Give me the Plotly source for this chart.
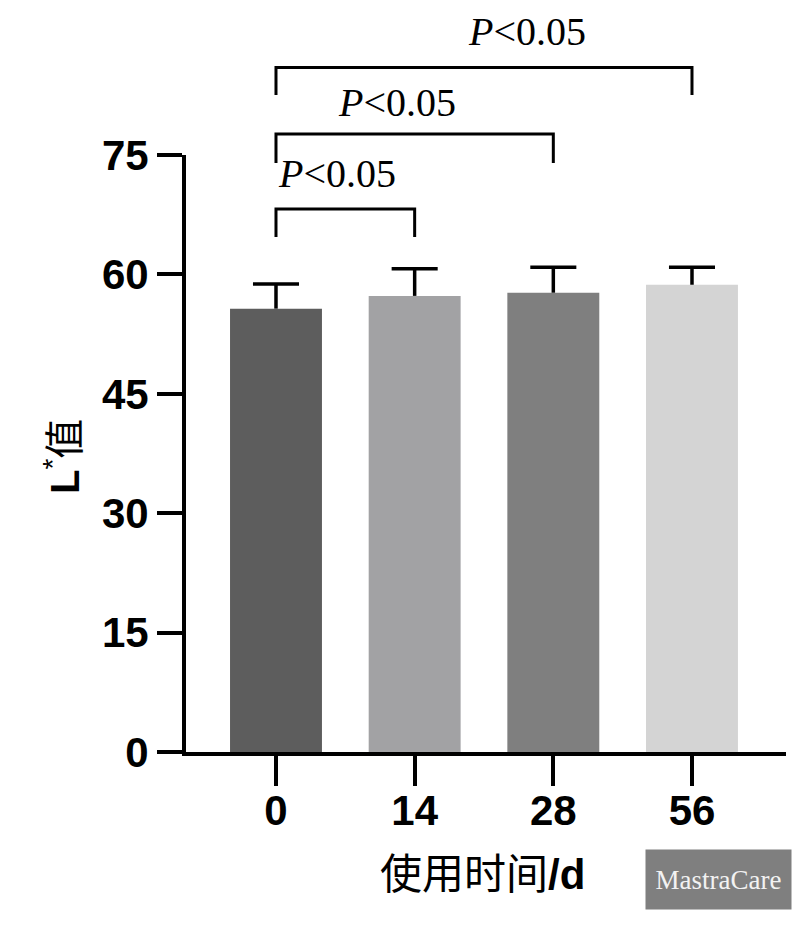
import plotly.graph_objects as go

# ---- data ----
days = ["0", "14", "28", "56"]
l_values = [55.7, 57.3, 57.7, 58.7]
l_sd = [3.1, 3.4, 3.2, 2.2]
bar_colors = ["#5d5d5d", "#a2a2a4", "#7f7f7f", "#d4d4d4"]
y_ticks = [0, 15, 30, 45, 60, 75]
comparisons = [(0, 1), (0, 2), (0, 3)]
p_labels = ["<i>P</i>&lt;0.05", "<i>P</i>&lt;0.05", "<i>P</i>&lt;0.05"]

# ---- layout geometry (pixels) ----
W, H = 807, 925
L, R, T, B = 186, 21, 155, 173
PW = W - L - R
PH = H - T - B
CAP_HALF = 0.166  # half cap width in category units


def xp(px):
    return (px - L) / PW


def yp(py):
    return (H - B - py) / PH


fig = go.Figure()
fig.add_trace(go.Bar(
    x=days, y=l_values, width=0.663,
    marker=dict(color=bar_colors, line=dict(width=0)),
    showlegend=False,
))

# upper-only error bars (whisker + cap), derived from the data arrays
for i, (v, s) in enumerate(zip(l_values, l_sd)):
    fig.add_shape(type="line", xref="x", yref="y", x0=i, x1=i, y0=v, y1=v + s,
                  line=dict(color="black", width=3.5))
    fig.add_shape(type="line", xref="x", yref="y", x0=i - CAP_HALF,
                  x1=i + CAP_HALF, y0=v + s, y1=v + s,
                  line=dict(color="black", width=3.5))

axis_font = dict(family="Liberation Sans, Arial, sans-serif", size=42,
                 color="black", weight="bold")

fig.update_layout(
    width=W, height=H,
    margin=dict(l=L, r=R, t=T, b=B),
    paper_bgcolor="white", plot_bgcolor="white",
    xaxis=dict(type="category", range=[-0.649, 3.678], showline=True,
               linewidth=4, linecolor="black", ticks="outside", ticklen=30,
               tickwidth=4, tickcolor="black", showgrid=False, zeroline=False,
               tickfont=axis_font, ticklabelstandoff=-11),
    yaxis=dict(range=[0, 75], tickvals=y_ticks, showline=True, linewidth=4,
               linecolor="black", ticks="outside", ticklen=25, tickwidth=4,
               tickcolor="black", showgrid=False, zeroline=False,
               tickfont=axis_font),
)

# significance brackets
bracket_top = [209, 134, 67.5]
bracket_bot = [237, 163, 95]
label_pos = [(337, 174), (397, 102), (527, 31)]
for (a, b), yt, yb, lab, (lx, ly) in zip(comparisons, bracket_top, bracket_bot,
                                        p_labels, label_pos):
    fig.add_shape(type="path", xref="x", yref="paper",
                  path=f"M {a},{yp(yb)} L {a},{yp(yt)} L {b},{yp(yt)} L {b},{yp(yb)}",
                  line=dict(color="black", width=3))
    fig.add_annotation(text=lab, xref="paper", yref="paper", x=xp(lx), y=yp(ly),
                       xanchor="center", yanchor="middle", showarrow=False,
                       font=dict(family="Liberation Serif, Times New Roman, serif",
                                 size=40, color="black"))

# axis titles
fig.add_annotation(text="<b>L</b><sup>*</sup>值", xref="paper", yref="paper",
                   x=xp(62), y=yp(457), xanchor="center", yanchor="middle",
                   textangle=-90, showarrow=False,
                   font=dict(family="Liberation Sans, Noto Sans CJK SC, sans-serif",
                             size=40, color="black"))
fig.add_annotation(text="使用时间<b>/d</b>", xref="paper", yref="paper",
                   x=xp(482), y=yp(874), xanchor="center", yanchor="middle",
                   showarrow=False,
                   font=dict(family="Liberation Sans, Noto Sans CJK SC, sans-serif",
                             size=42, color="black"))

# logo box
fig.add_annotation(text="MastraCare", xref="paper", yref="paper",
                   x=xp(718), y=yp(879.5), xanchor="center", yanchor="middle",
                   showarrow=False, bgcolor="#7f7f7f", width=141, height=55,
                   borderpad=2,
                   font=dict(family="Liberation Serif, Times New Roman, serif",
                             size=27, color="#f2f2f2"))

fig.write_html("out.html")
